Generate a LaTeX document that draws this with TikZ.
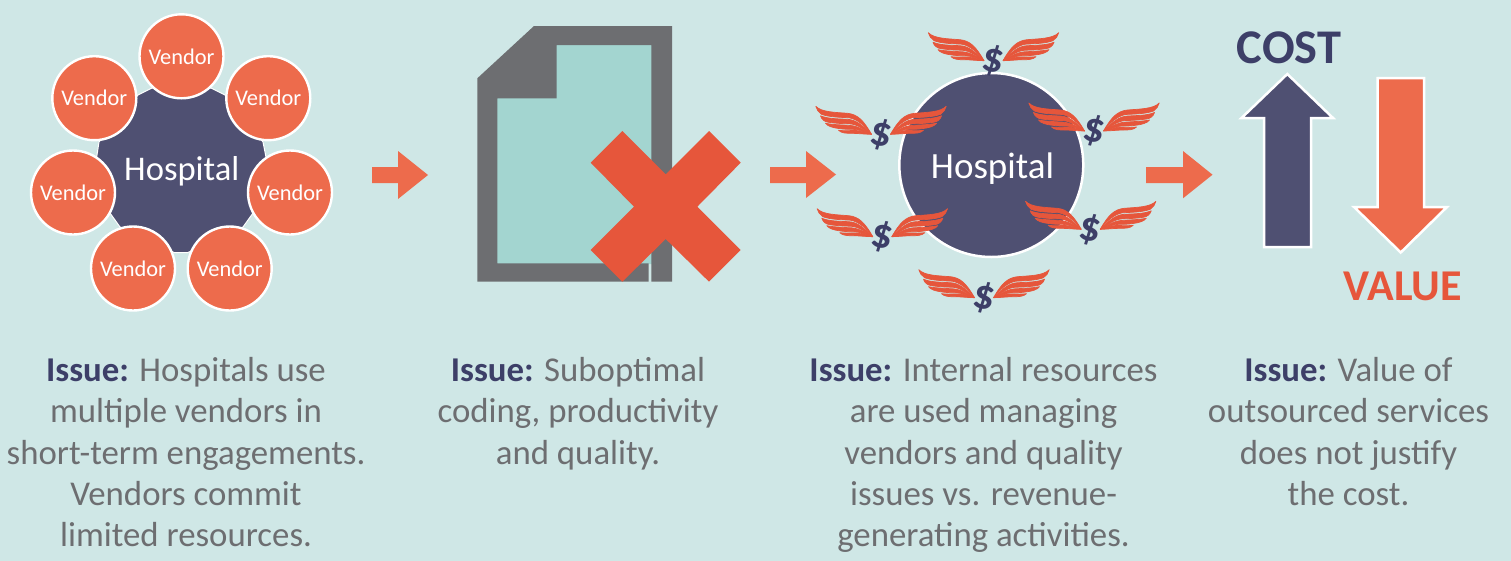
\documentclass[tikz,border=0pt]{standalone}
\usepackage{fontspec}
\setmainfont{Carlito}
\definecolor{bgc}{HTML}{CFE7E6}
\definecolor{navy}{HTML}{4F5072}
\definecolor{navyt}{HTML}{3D3F68}
\definecolor{orng}{HTML}{ED6B4C}
\definecolor{redx}{HTML}{E6563B}
\definecolor{graytxt}{HTML}{6D6E71}
\definecolor{teal}{HTML}{A3D5D0}
\tikzset{
  vendor/.style={circle,draw=white,line width=2.4pt,fill=orng,minimum size=84pt,inner sep=0pt,text=white,font=\fontsize{22.4}{24}\selectfont},
  blockarrow/.style={fill=orng},
  issue/.style={align=center,inner sep=0pt,anchor=north,text=graytxt,font=\fontsize{34.8}{41.4}\selectfont},
  dollar/.style={text=navyt,inner sep=0pt,rotate=-12,font=\fontsize{42}{42}\selectfont\bfseries},
  feather/.style={fill=redx,draw=redx,line width=0.7pt,line join=round},
}
\newcommand{\onewing}{%
  \filldraw[feather] (0,0) .. controls (8,-14) and (14,-20) .. (24,-21) .. controls (36,-22) and (50,-22) .. (55.7,-28) .. controls (55,-25) and (53,-22) .. (50,-20) .. controls (42,-17) and (30,-17) .. (22,-16.5) .. controls (14,-15) and (6,-8) .. (0,0);
  \filldraw[feather] (0,0) .. controls (10,-10) and (16,-14.5) .. (24,-15) .. controls (34,-15.5) and (44,-15.5) .. (51,-18.5) .. controls (50,-15) and (47,-12.5) .. (43,-12) .. controls (36,-11) and (28,-10.5) .. (22,-10.5) .. controls (14,-10) and (8,-5) .. (0,0);
  \filldraw[feather] (0,0) .. controls (10,-6) and (16,-9) .. (24,-9) .. controls (30,-9.5) and (38,-9.5) .. (46,-11) .. controls (44,-8) and (38,-6.5) .. (34,-6) .. controls (28,-5) and (24,-5) .. (20,-5) .. controls (12,-5) and (6,-2) .. (0,0);
  \filldraw[feather] (0,0) .. controls (8,-3) and (14,-4.2) .. (20,-3.8) .. controls (24,-3.5) and (28,-3.5) .. (33,-4) .. controls (30,-1) and (25,-1) .. (20,-1) .. controls (14,-1) and (6,0) .. (0,0);
}
\newcommand{\flyingdollar}[3]{%
  \begin{scope}[shift={(#1,#2)}]
    \begin{scope}[shift={(9.5,0)}]\onewing\end{scope}
    \begin{scope}[shift={(-9.5,0)},xscale=-1]\onewing\end{scope}
    \node[dollar] (#3) at (0,0) {\$};
  \end{scope}
}
\begin{document}
\begin{tikzpicture}[x=1pt,y=-1pt]
\useasboundingbox (0,0) rectangle (1511,560);
\fill[bgc] (-3,-3) rectangle (1514,563);

% Hub and vendors
\filldraw[navy,draw=white,line width=1pt] (174,252.5) -- (188,252.5) -- (243,227) -- (253,213) -- (266,157) -- (263,142) -- (225,95) -- (211,88) -- (152,88) -- (138,95) -- (99,142) -- (96.7,157) -- (110,213) -- (120,227) -- cycle;
\node[text=white,inner sep=0pt,font=\fontsize{34.6}{38}\selectfont] (hub) at (181.8,171.5) {Hospital};
\node[vendor] (v1) at (181.5,56.3) {Vendor};
\node[vendor] (v2) at (268.3,98.2) {Vendor};
\node[vendor] (v3) at (290,192.5) {Vendor};
\node[vendor] (v4) at (229.7,268.5) {Vendor};
\node[vendor] (v5) at (133,268.5) {Vendor};
\node[vendor] (v6) at (73,192.5) {Vendor};
\node[vendor] (v7) at (94.3,98.2) {Vendor};

% Block arrows
\fill[blockarrow] (372,167) -- (398,167) -- (398,151) -- (428,175) -- (398,199) -- (398,183) -- (372,183) -- cycle;
\fill[blockarrow] (770,167) -- (806,167) -- (806,151) -- (836,174.5) -- (806,198) -- (806,183) -- (770,183) -- cycle;
\fill[blockarrow] (1146,167) -- (1183,167) -- (1183,151) -- (1212.5,174.7) -- (1183,198.3) -- (1183,183) -- (1146,183) -- cycle;

% Document
\fill[teal] (556,44) -- (652,44) -- (652,264) -- (497,264) -- (497,98) -- (556,98) -- cycle;
\fill[graytxt,even odd rule] (534,26) -- (672,26) -- (672,281.7) -- (651.3,281.7) -- (651.3,45) -- (556.7,45) -- (556.7,98.3) -- (497.3,98.3) -- (497.3,263.3) -- (648.7,263.3) -- (648.7,281.7) -- (477.3,281.7) -- (477.3,78.3) -- cycle;
\fill[redx] (622.3,131) -- (665.7,174.3) -- (709,131) -- (740.7,162.7) -- (697.3,206.7) -- (740.7,250) -- (709,281.7) -- (665.7,239) -- (622.3,281.7) -- (590.7,250) -- (634,206.7) -- (590.7,162.7) -- cycle;

% Hospital with flying money
\node[circle,draw=white,line width=2.5pt,fill=navy,minimum size=184pt,inner sep=0pt] (hosp) at (991.3,165) {};
\node[text=white,inner sep=0pt,font=\fontsize{37}{40}\selectfont] (hosplabel) at (992.5,169) {Hospital};
\flyingdollar{993.5}{60.7}{d1}
\flyingdollar{881}{134.3}{d2}
\flyingdollar{1094}{131}{d3}
\flyingdollar{882.3}{236.7}{d4}
\flyingdollar{1090.7}{229.3}{d5}
\flyingdollar{984}{297.7}{d6}

% Cost and value
\filldraw[fill=navy,draw=white,line width=2.5pt,miter limit=10] (1287.3,74) -- (1333,118) -- (1311,118) -- (1311,247) -- (1264,247) -- (1264,118) -- (1241.5,118) -- cycle;
\filldraw[fill=orng,draw=white,line width=2.5pt,miter limit=10] (1377.5,78) -- (1424,78) -- (1424,207) -- (1447,207) -- (1400.7,252.5) -- (1354,207) -- (1377.5,207) -- cycle;
\node[anchor=base,inner sep=0pt,text=navyt,font=\fontsize{48.4}{52}\selectfont\bfseries] (cost) at (1289,63.3) {COST};
\node[anchor=base,inner sep=0pt,text=redx,font=\fontsize{44}{48}\selectfont\bfseries] (value) at (1403,300.3) {VALUE};

% Captions
\node[issue] (t1) at (186,357) {\textcolor{navyt}{\textbf{Issue:}} Hospitals use\\multiple vendors in\\short-term engagements.\\Vendors commit\\limited resources.};
\node[issue] (t2) at (578,357) {\textcolor{navyt}{\textbf{Issue:}} Suboptimal\\coding, productivity\\and quality.};
\node[issue] (t3) at (983.5,357) {\textcolor{navyt}{\textbf{Issue:}} Internal resources\\are used managing\\vendors and quality\\issues vs. revenue-\\generating activities.};
\node[issue] (t4) at (1348.5,357) {\textcolor{navyt}{\textbf{Issue:}} Value of\\outsourced services\\does not justify\\the cost.};
\end{tikzpicture}
\end{document}
